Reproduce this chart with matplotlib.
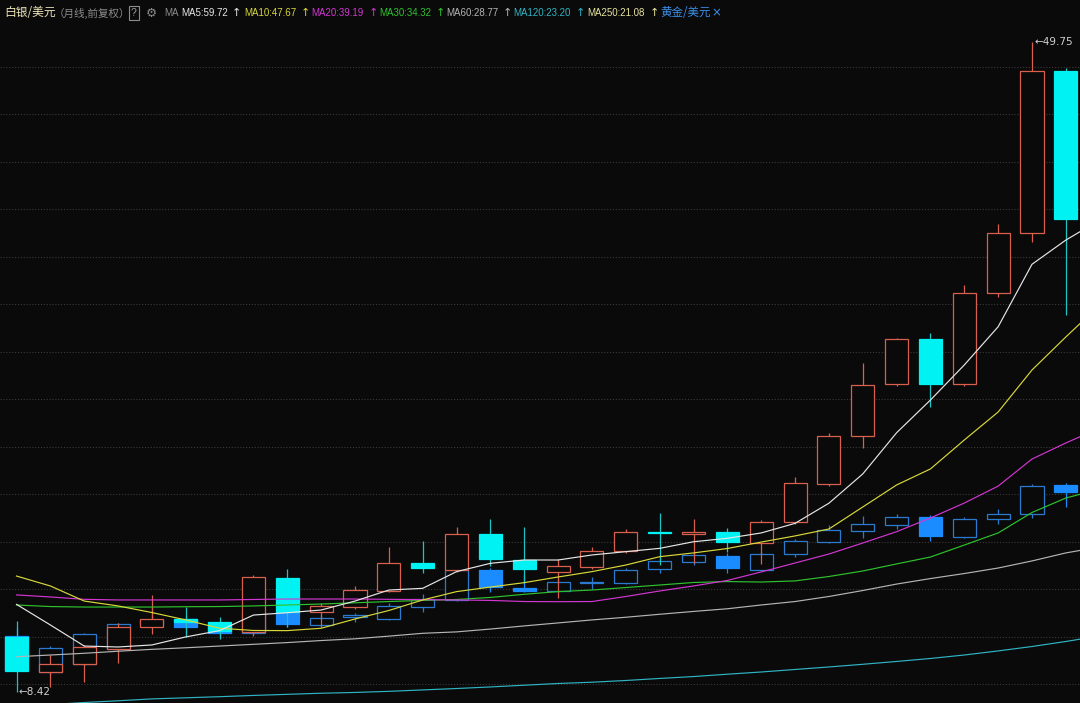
import numpy as np
import matplotlib
matplotlib.use("Agg")
import matplotlib.pyplot as plt

# silver / USD monthly candles (Oct 2008 - May 2011)
silver_open = [11.92, 9.70, 10.19, 11.14, 12.56, 13.03, 12.84, 12.24, 15.64, 13.51, 13.79, 14.85, 16.59, 16.16, 18.45, 16.80,
               16.06, 16.37, 17.39, 18.60, 18.47, 18.56, 17.90, 19.24, 21.63, 24.68, 27.97, 30.85, 27.97, 33.76, 37.57, 47.91]
silver_high = [12.92, 10.76, 11.40, 12.78, 14.58, 13.79, 13.16, 15.85, 16.21, 14.05, 15.15, 17.61, 18.03, 18.92, 19.39, 18.88,
               16.84, 17.61, 18.75, 19.77, 19.39, 18.83, 19.34, 22.06, 24.89, 29.31, 30.89, 31.21, 34.28, 38.14, 49.75, 48.06]
silver_low = [8.42, 8.75, 9.06, 10.27, 12.08, 11.92, 11.76, 11.97, 12.52, 12.52, 13.70, 14.77, 15.95, 16.04, 16.42, 15.34,
              14.37, 16.23, 17.24, 16.48, 16.61, 17.33, 16.55, 19.09, 21.50, 23.90, 27.86, 26.55, 27.88, 33.54, 37.04, 32.38]
silver_close = [9.74, 10.19, 11.25, 12.56, 13.03, 12.88, 12.31, 15.70, 13.51, 13.88, 14.89, 16.63, 16.27, 18.45, 16.84, 16.21,
                16.42, 17.39, 18.60, 18.54, 18.56, 17.96, 19.20, 21.68, 24.68, 27.93, 30.85, 27.97, 33.76, 37.57, 47.91, 38.48]

# gold / USD overlay candles
gold_open = [869, 710, 745, 812, 925, 946, 916, 883, 980, 920, 956, 946, 1000, 1033, 1168, 1088,
             1075, 1109, 1108, 1171, 1205, 1231, 1168, 1239, 1293, 1345, 1370, 1408, 1318, 1396, 1419, 1551]
gold_high = [907, 826, 886, 931, 1001, 961, 920, 992, 992, 965, 974, 1018, 1060, 1172, 1177, 1145,
             1132, 1138, 1176, 1228, 1250, 1245, 1249, 1307, 1370, 1411, 1420, 1417, 1405, 1441, 1555, 1561]
gold_low = [709, 695, 740, 808, 916, 880, 862, 880, 911, 911, 935, 943, 980, 1028, 1070, 1069,
            1069, 1081, 1107, 1153, 1190, 1153, 1163, 1225, 1289, 1311, 1351, 1298, 1314, 1373, 1403, 1453]
gold_close = [718, 815, 878, 925, 943, 913, 883, 979, 923, 950, 963, 1006, 1036, 1168, 1093, 1073,
              1113, 1114, 1168, 1208, 1235, 1176, 1239, 1298, 1348, 1375, 1408, 1321, 1396, 1419, 1546, 1520]

# moving averages (one extra point past the last visible candle)
ma5 = [13.98, 12.67, 11.33, 11.27, 11.40, 11.91, 12.31, 13.30, 13.45, 13.62, 14.19, 14.89, 15.00, 16.06, 16.59, 16.80, 16.80,
       17.12, 17.33, 17.54, 17.96, 18.18, 18.52, 19.13, 20.41, 22.27, 24.89, 26.97, 29.20, 31.63, 35.60, 37.14, 38.41]
ma10 = [15.78, 15.15, 14.19, 13.88, 13.46, 12.99, 12.46, 12.32, 12.31, 12.46, 13.05, 13.59, 14.26, 14.79, 15.08, 15.36, 15.72,
        16.06, 16.48, 17.01, 17.25, 17.53, 17.94, 18.33, 18.77, 20.17, 21.57, 22.59, 24.43, 26.21, 28.88, 30.98, 33.01]
ma20 = [14.58, 14.45, 14.30, 14.26, 14.26, 14.26, 14.26, 14.29, 14.32, 14.32, 14.32, 14.30, 14.28, 14.26, 14.23, 14.16, 14.15,
        14.16, 14.48, 14.83, 15.15, 15.50, 16.04, 16.61, 17.18, 17.88, 18.60, 19.47, 20.42, 21.50, 23.22, 24.24, 25.19]
ma30 = [13.94, 13.84, 13.81, 13.81, 13.81, 13.83, 13.84, 13.88, 13.94, 14.00, 14.08, 14.16, 14.23, 14.29, 14.42, 14.62, 14.79,
        14.89, 15.05, 15.21, 15.37, 15.43, 15.40, 15.47, 15.75, 16.10, 16.55, 16.99, 17.75, 18.52, 19.82, 20.74, 21.31]
ma60 = [10.65, 10.76, 10.87, 11.00, 11.12, 11.22, 11.33, 11.44, 11.55, 11.68, 11.79, 11.96, 12.14, 12.23, 12.41, 12.61, 12.80,
        12.99, 13.16, 13.35, 13.53, 13.70, 13.94, 14.16, 14.48, 14.86, 15.27, 15.62, 15.94, 16.29, 16.74, 17.25, 17.63]
ma120 = [7.52, 7.61, 7.74, 7.85, 7.97, 8.04, 8.11, 8.19, 8.26, 8.33, 8.38, 8.45, 8.54, 8.63, 8.73, 8.84, 8.95,
         9.03, 9.14, 9.27, 9.39, 9.54, 9.68, 9.84, 10.00, 10.17, 10.35, 10.54, 10.76, 11.02, 11.30, 11.62, 11.97]

ma_labels = ["MA5:59.72", "MA10:47.67", "MA20:39.19", "MA30:34.32", "MA60:28.77", "MA120:23.20", "MA250:21.08"]

BG = "#0a0a0a"
UP = "#d9604f"
DOWN = "#00f2f2"
G_UP = "#2c7ad0"
G_DOWN = "#1a8cff"
MA_COLORS = ["#e6e6e6", "#d8d83a", "#d236d2", "#2ec22e", "#b4b4b4", "#2fb4c4", "#e8e4a0"]

CJK = ["Noto Sans CJK SC", "DejaVu Sans"]
LAT = ["Liberation Sans", "DejaVu Sans"]

fig = plt.figure(figsize=(10.8, 7.03), dpi=100, facecolor=BG)
ax2 = fig.add_axes([0, 0, 1, 1])
ax = ax2.twinx()
for a in (ax, ax2):
    a.set_xlim(-0.4875, 31.418)
    a.axis("off")
ax2.set_facecolor(BG)
ax.set_ylim(7.709, 52.401)
ax2.set_ylim(569.2, 3733.1)

# dotted grid
for lv in np.linspace(48.16, 8.90, 14):
    ax2.axhline(ax2.transData.inverted().transform(ax.transData.transform((0, lv)))[1],
                color="#3a3a3a", lw=0.8, ls=(0, (1, 1.6)), zorder=0)

W = 0.68


def candles(a, o, h, l, c, up_col, dn_col, wick_dn, z):
    x = np.arange(len(o))
    o, h, l, c = map(np.asarray, (o, h, l, c))
    up = c >= o
    a.vlines(x[up], l[up], h[up], color=up_col, lw=0.9, zorder=z)
    a.vlines(x[~up], l[~up], h[~up], color=wick_dn, lw=0.9, zorder=z)
    body = np.abs(c - o)
    bottom = np.minimum(o, c)
    a.bar(x[up], body[up], W, bottom[up], facecolor=BG, edgecolor=up_col, lw=0.9, zorder=z + 1)
    a.bar(x[~up], body[~up], W, bottom[~up], facecolor=dn_col, edgecolor=dn_col, lw=0.9, zorder=z + 1)


candles(ax2, gold_open, gold_high, gold_low, gold_close, G_UP, G_DOWN, G_DOWN, 2)
candles(ax, silver_open, silver_high, silver_low, silver_close, UP, DOWN, "#1cc4c4", 3)

xs = np.arange(len(ma5))
for vals, col in zip([ma120, ma60, ma30, ma20, ma10, ma5], MA_COLORS[:6][::-1]):
    ax.plot(xs, vals, color=col, lw=0.85, zorder=6)

ax.text(30.06, 49.75, "←49.75", color="#d0d0d0", fontsize=7.5, va="center", ha="left",
        family=["DejaVu Sans"], zorder=7)
ax.text(0.05, 8.42, "←8.42", color="#d0d0d0", fontsize=7.5, va="center", ha="left",
        family=["DejaVu Sans"], zorder=7)


# header line
def htext(x, s, col, fam=LAT, size=7, **kw):
    fig.text(x / 1080, 1 - 13 / 703, s, color=col, fontsize=size, family=fam, va="center", ha="left", **kw)


htext(4, "白银/美元", "#ece4b8", CJK, 8.5)
htext(54, "（月线,前复权）", "#8c8c8c", CJK, 7.6)
htext(131, "?", "#a0a0a0", LAT, 7.5,
      bbox=dict(boxstyle="square,pad=0.2", fc="none", ec="#8c8c8c", lw=0.8))
htext(146, "⚙", "#8c8c8c", ["DejaVu Sans"], 9)
htext(164, "MA", "#8c8c8c")
label_x = [181, 244, 311, 379, 446, 513, 587]
arrow_x = [232, 301, 369, 436, 503, 576, 650]
for lx, axx, s, col in zip(label_x, arrow_x, ma_labels, MA_COLORS):
    htext(lx, s, col)
    htext(axx, "↑", col, ["DejaVu Sans"], 8)
htext(660, "黄金/美元", "#3c8ee8", CJK, 8.3)
htext(711, "×", "#3c8ee8", ["DejaVu Sans"], 8.5)

fig.savefig("out.png", dpi=100, facecolor=BG)
